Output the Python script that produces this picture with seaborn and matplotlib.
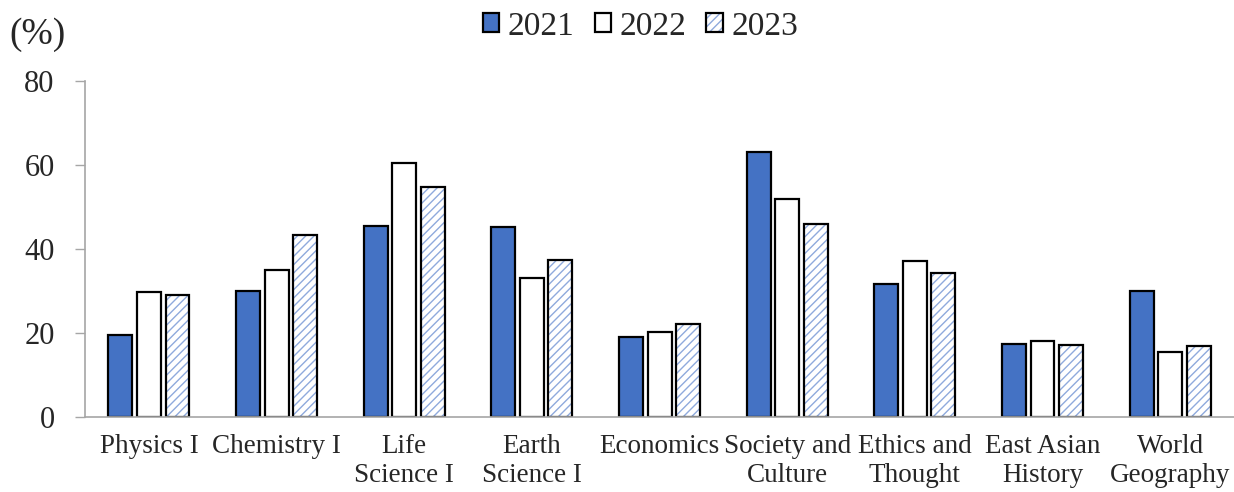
"""Share of students choosing each elective subject, 2021-2023."""
import matplotlib

matplotlib.use("Agg")
import matplotlib.pyplot as plt
import pandas as pd
import seaborn as sns
from matplotlib.legend_handler import HandlerTuple
from matplotlib.patches import Patch, Rectangle

# --------------------------------------------------------------------------- #
# Data (in %)
# --------------------------------------------------------------------------- #
subjects = [
    "Physics I", "Chemistry I", "Life\nScience I", "Earth\nScience I",
    "Economics", "Society and\nCulture", "Ethics and\nThought",
    "East Asian\nHistory", "World\nGeography",
]
years = ["2021", "2022", "2023"]
pct_2021 = [19.5, 30.0, 45.4, 45.2, 19.0, 63.0, 31.7, 17.4, 30.0]
pct_2022 = [29.7, 34.9, 60.4, 33.1, 20.2, 51.9, 37.1, 18.1, 15.5]
pct_2023 = [29.0, 43.3, 54.8, 37.3, 22.1, 46.0, 34.2, 17.1, 16.8]
y_ticks = [0, 20, 40, 60, 80]

BLUE = "#4472C4"
HATCH_BLUE = "#8FAADC"

df = pd.DataFrame({
    "subject": subjects * 3,
    "year": [y for y in years for _ in subjects],
    "pct": pct_2021 + pct_2022 + pct_2023,
})

sns.set_theme(style="white")
plt.rcParams["font.family"] = ["Liberation Serif", "DejaVu Serif"]
plt.rcParams["hatch.linewidth"] = 1.0

fig = plt.figure(figsize=(12.34, 4.92), dpi=100)
ax = fig.add_axes([0.069, 0.1524, 0.931, 0.6829])

sns.barplot(
    data=df, x="subject", y="pct", hue="year", hue_order=years,
    palette={"2021": BLUE, "2022": "white", "2023": "white"}, saturation=1,
    width=0.67, gap=0.16, edgecolor="black", linewidth=1.6,
    legend=False, ax=ax,
)

# 2023 bars: light-blue hatch inside a black outline
for bar in ax.containers[2]:
    bar.set_edgecolor(HATCH_BLUE)
    bar.set_hatch("////")
    bar.set_linewidth(0)
    ax.add_patch(Rectangle(bar.get_xy(), bar.get_width(), bar.get_height(),
                           fill=False, edgecolor="black", linewidth=1.6))

ax.set_ylim(0, 80)
ax.set_xlim(-0.5, len(subjects) - 0.5)
ax.set_yticks(y_ticks)
ax.set_xlabel("")
ax.set_ylabel("")
ax.tick_params(axis="y", direction="out", length=7, width=1, color="#a6a6a6",
               labelsize=22, pad=15, left=True)
ax.tick_params(axis="x", length=0, labelsize=19.5, pad=12)
for lab in ax.get_xticklabels():
    lab.set_linespacing(1.25)
for side in ("top", "right"):
    ax.spines[side].set_visible(False)
for side in ("left", "bottom"):
    ax.spines[side].set_color("#a6a6a6")
    ax.spines[side].set_linewidth(1.2)

fig.text(0.008, 0.93, "(%)", fontsize=27, ha="left", va="center")

handles = [
    Patch(facecolor=BLUE, edgecolor="black", linewidth=1.6),
    Patch(facecolor="white", edgecolor="black", linewidth=1.6),
    (Patch(facecolor="white", edgecolor=HATCH_BLUE, hatch="////", linewidth=0),
     Patch(facecolor="none", edgecolor="black", linewidth=1.6)),
]
fig.legend(handles, years, loc="center", bbox_to_anchor=(0.519, 0.946), ncol=3,
           frameon=False, fontsize=24, handlelength=0.5, handleheight=0.5,
           handletextpad=0.25, columnspacing=0.6,
           handler_map={tuple: HandlerTuple(ndivide=1, pad=0)})

fig.savefig("out.png", dpi=100)
plt.close(fig)
